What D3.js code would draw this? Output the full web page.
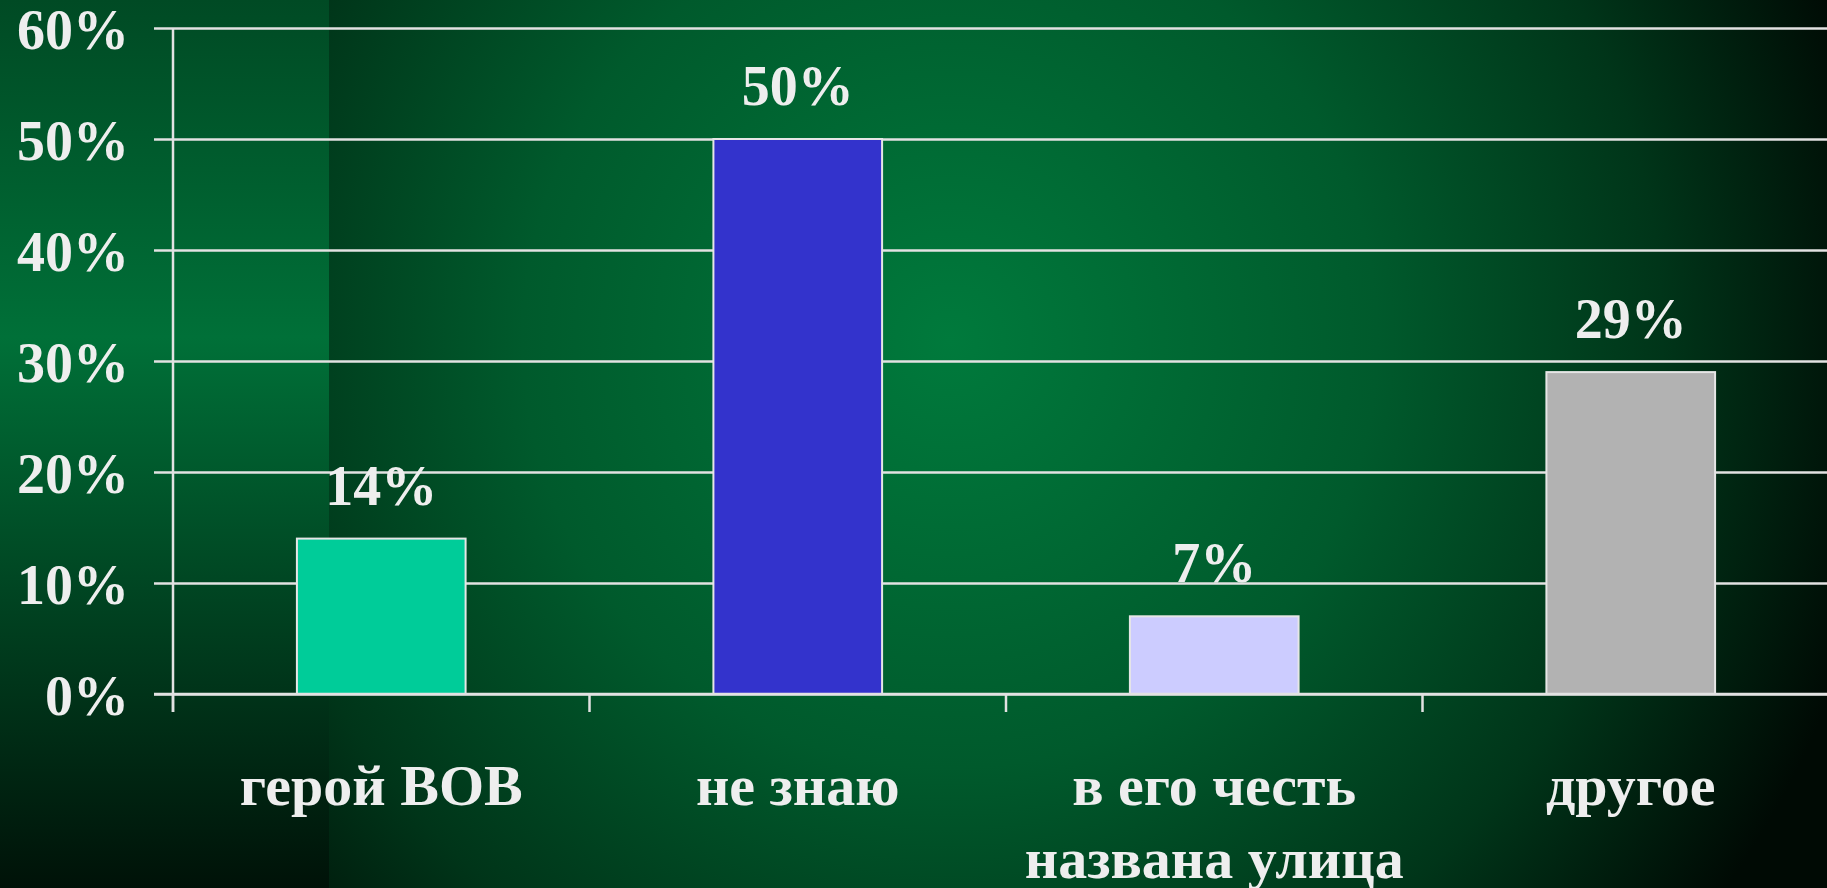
<!DOCTYPE html>
<html>
<head>
<meta charset="utf-8">
<script src="https://cdn.jsdelivr.net/npm/d3@7"></script>
<style>
  html, body { margin: 0; padding: 0; background: #003a1c; overflow: hidden; }
  svg { display: block; }
</style>
</head>
<body>
<div id="chart"></div>
<script>
// data
const categories = ["герой ВОВ", "не знаю", "в его честь|названа улица", "другое"]
const values = [14, 50, 7, 29]
const barColors = ["#00cc99", "#3333cc", "#ccccff", "#b2b2b2"]
const yTicks = [0, 10, 20, 30, 40, 50, 60]

const W = 1827, H = 888
const plotLeft = 173, plotBottom = 694, plotTop = 28
const bandStep = 416.5

const svg = d3.select("#chart").append("svg")
  .attr("width", W)
  .attr("height", H)

// background: radial glow + lighter strip on the left
const defs = svg.append("defs")
const rg = defs.append("radialGradient")
  .attr("id", "bg")
  .attr("gradientUnits", "userSpaceOnUse")
  .attr("cx", 950).attr("cy", 340).attr("r", 950)
rg.append("stop").attr("offset", 0).attr("stop-color", "#007a3c")
rg.append("stop").attr("offset", 0.45).attr("stop-color", "#005a2c")
rg.append("stop").attr("offset", 0.75).attr("stop-color", "#003519")
rg.append("stop").attr("offset", 1).attr("stop-color", "#000a04")

const lg = defs.append("linearGradient")
  .attr("id", "strip")
  .attr("x1", 0).attr("y1", 0).attr("x2", 0).attr("y2", 1)
lg.append("stop").attr("offset", 0).attr("stop-color", "#004a24")
lg.append("stop").attr("offset", 0.38).attr("stop-color", "#007038")
lg.append("stop").attr("offset", 1).attr("stop-color", "#001208")

svg.append("rect").attr("width", W).attr("height", H).attr("fill", "url(#bg)")
svg.append("rect").attr("width", 329).attr("height", H).attr("fill", "url(#strip)")

// scales
const x = d3.scaleBand()
  .domain(categories)
  .range([plotLeft, plotLeft + bandStep * categories.length])
  .padding(0)

const y = d3.scaleLinear()
  .domain([0, 60])
  .range([plotBottom, plotTop])

const lineColor = "#e2e2e2"
const textColor = "#eeeeee"
const font = "'Liberation Serif', 'Times New Roman', serif"

// Y AXIS with gridlines
const yAxis = svg.append("g")
  .attr("transform", "translate(" + plotLeft + ",0)")
  .call(d3.axisLeft(y)
    .tickValues(yTicks)
    .tickSizeInner(-(W - plotLeft + 10))
    .tickSizeOuter(0)
    .tickFormat((d) => d + "%"))
yAxis.select(".domain").remove()
yAxis.selectAll(".tick line")
  .attr("x1", -19)
  .attr("stroke", lineColor)
  .attr("stroke-width", 2.5)
yAxis.selectAll(".tick text")
  .attr("x", -44)
  .attr("dy", "0.36em")
  .attr("fill", textColor)
  .attr("font-family", font)
  .attr("font-weight", "bold")
  .attr("font-size", 56)

// vertical axis line, runs a bit below the baseline like the ticks
svg.append("line")
  .attr("x1", plotLeft).attr("x2", plotLeft)
  .attr("y1", y(60)).attr("y2", plotBottom + 18)
  .attr("stroke", lineColor)
  .attr("stroke-width", 2.5)

// category ticks on the x axis
svg.append("g").selectAll("line").data(categories).enter()
  .append("line")
  .attr("x1", (d) => x(d)).attr("x2", (d) => x(d))
  .attr("y1", plotBottom).attr("y2", plotBottom + 18)
  .attr("stroke", lineColor)
  .attr("stroke-width", 2.5)

// BARS
const barW = x.bandwidth() * 0.405
svg.append("g").selectAll("rect").data(categories).enter()
  .append("rect")
  .attr("x", (d) => x(d) + x.bandwidth() / 2 - barW / 2)
  .attr("y", (d, i) => y(values[i]))
  .attr("width", barW)
  .attr("height", (d, i) => plotBottom - y(values[i]))
  .attr("fill", (d, i) => barColors[i])
  .attr("stroke", "#e6e6e6")
  .attr("stroke-width", 2)

// x axis line drawn over the bar bottoms
svg.append("line")
  .attr("x1", 154).attr("x2", W)
  .attr("y1", plotBottom).attr("y2", plotBottom)
  .attr("stroke", lineColor)
  .attr("stroke-width", 2.5)

// VALUE LABELS
svg.append("g").selectAll("text").data(categories).enter()
  .append("text")
  .attr("x", (d) => x(d) + x.bandwidth() / 2)
  .attr("y", (d, i) => y(values[i]) - 34)
  .attr("text-anchor", "middle")
  .attr("fill", textColor)
  .attr("font-family", font)
  .attr("font-weight", "bold")
  .attr("font-size", 56)
  .text((d, i) => values[i] + "%")

// CATEGORY LABELS (split on | into lines)
const catLabels = svg.append("g").selectAll("text").data(categories).enter()
  .append("text")
  .attr("text-anchor", "middle")
  .attr("fill", textColor)
  .attr("font-family", font)
  .attr("font-weight", "bold")
  .attr("font-size", 58)
catLabels.selectAll("tspan")
  .data((d) => d.split("|").map((t) => ({ t: t, c: d })))
  .enter()
  .append("tspan")
  .attr("x", (d) => x(d.c) + x.bandwidth() / 2)
  .attr("y", (d, i) => 805 + i * 73)
  .text((d) => d.t)
</script>
</body>
</html>
